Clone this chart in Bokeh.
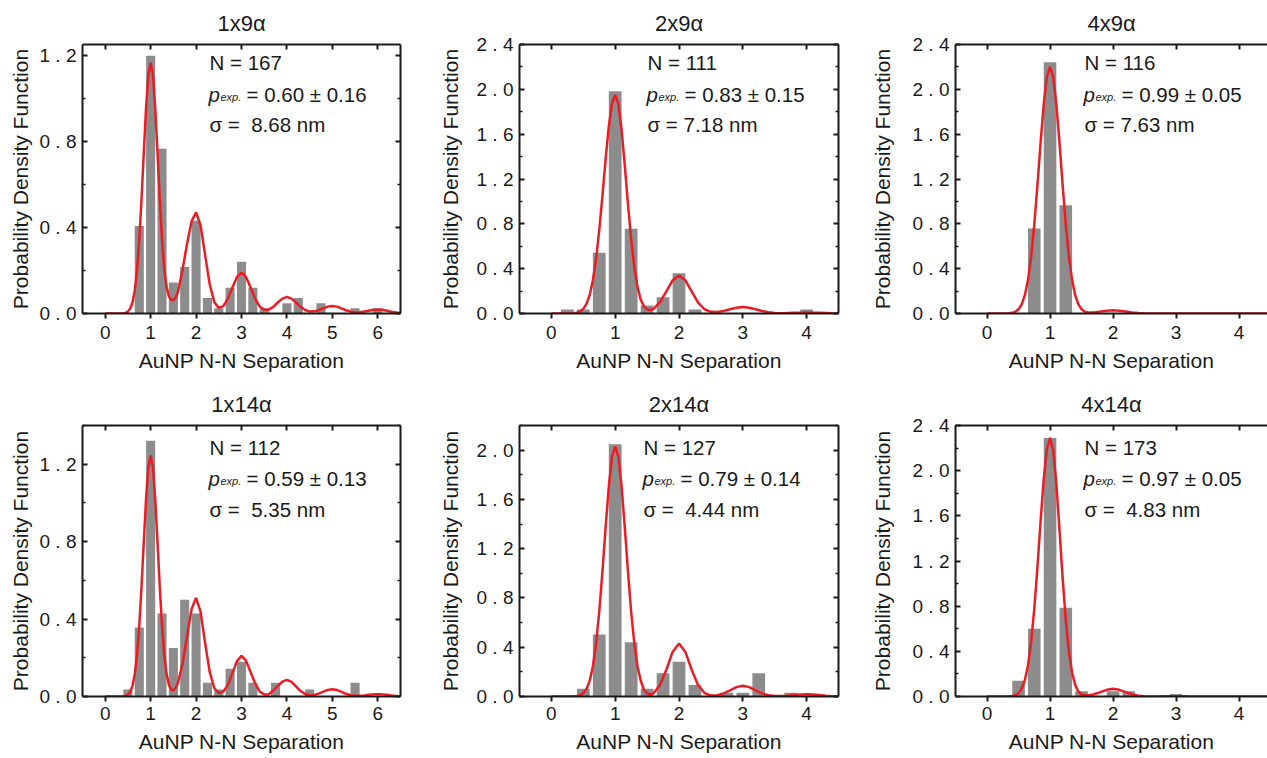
from bokeh.plotting import figure
from bokeh.layouts import column, row
from bokeh.models import LinearAxis, FixedTicker, CustomJSTickFormatter, Label, Range1d
from bokeh.embed import file_html
from bokeh.resources import INLINE

# ---------------- data ----------------
titles = ["1x9\u03b1", "2x9\u03b1", "4x9\u03b1", "1x14\u03b1", "2x14\u03b1", "4x14\u03b1"]
n_values = ["167", "111", "116", "112", "127", "173"]
p_values = ["0.60 \u00b1 0.16", "0.83 \u00b1 0.15", "0.99 \u00b1 0.05",
            "0.59 \u00b1 0.13", "0.79 \u00b1 0.14", "0.97 \u00b1 0.05"]
sigma_values = ["\u00a08.68", "7.18", "7.63", "\u00a05.35", "\u00a04.44", "\u00a04.83"]

# histogram bins (centre of 0.25-wide bins) and probability density heights
bars_x1 = [0.75, 1.0, 1.25, 1.5, 1.75, 2.0, 2.25, 2.5, 2.75, 3.0, 3.25, 3.5, 4.0, 4.25, 4.75, 5.5, 6.0]
bars_h1 = [0.407, 1.198, 0.766, 0.144, 0.216, 0.431, 0.072, 0.024, 0.120, 0.240, 0.120, 0.024,
           0.048, 0.072, 0.048, 0.024, 0.024]
bars_x2 = [0.25, 0.5, 0.75, 1.0, 1.25, 1.5, 1.75, 2.0, 2.25, 4.0]
bars_h2 = [0.036, 0.036, 0.541, 1.982, 0.757, 0.072, 0.144, 0.360, 0.036, 0.036]
bars_x3 = [0.75, 1.0, 1.25]
bars_h3 = [0.759, 2.241, 0.966]
bars_x4 = [0.5, 0.75, 1.0, 1.25, 1.5, 1.75, 2.0, 2.25, 2.5, 2.75, 3.0, 3.25, 3.75, 4.5, 5.5]
bars_h4 = [0.036, 0.357, 1.321, 0.429, 0.250, 0.500, 0.429, 0.071, 0.036, 0.143, 0.179, 0.071,
           0.071, 0.036, 0.071]
bars_x5 = [0.5, 0.75, 1.0, 1.25, 1.5, 1.75, 2.0, 2.25, 2.75, 3.0, 3.25, 3.75]
bars_h5 = [0.063, 0.504, 2.047, 0.441, 0.063, 0.189, 0.283, 0.094, 0.031, 0.031, 0.189, 0.031]
bars_x6 = [0.5, 0.75, 1.0, 1.25, 1.5, 2.0, 2.25, 3.0]
bars_h6 = [0.139, 0.601, 2.289, 0.786, 0.046, 0.046, 0.046, 0.023]

# fitted curves, read point by point
grid_a = [0.0, 0.3, 0.4, 0.45, 0.5, 0.55, 0.6, 0.65, 0.7, 0.75, 0.8, 0.85, 0.9, 0.95, 1.0,
          1.05, 1.1, 1.15, 1.2, 1.25, 1.3, 1.35, 1.4, 1.45, 1.5, 1.55, 1.6,
          1.7, 1.8, 1.9, 2.0, 2.1, 2.2, 2.3, 2.4, 2.5, 2.6, 2.7, 2.8, 2.9, 3.0,
          3.1, 3.2, 3.3, 3.4, 3.5, 3.6, 3.7, 3.8, 3.9, 4.0, 4.1, 4.2, 4.3, 4.4, 4.5,
          4.6, 4.7, 4.8, 4.9, 5.0, 5.1, 5.2, 5.3, 5.4, 5.5, 5.6, 5.7, 5.8, 5.9, 6.0,
          6.1, 6.2, 6.3, 6.4, 6.5]
grid_b = [0.0, 0.3, 0.35, 0.4, 0.45, 0.5, 0.55, 0.6, 0.65, 0.7, 0.75, 0.8, 0.85, 0.9, 0.95, 1.0,
          1.05, 1.1, 1.15, 1.2, 1.25, 1.3, 1.35, 1.4, 1.45, 1.5, 1.55, 1.6,
          1.7, 1.8, 1.9, 2.0, 2.1, 2.2, 2.3, 2.4, 2.5, 2.6, 2.7, 2.8, 2.9, 3.0,
          3.1, 3.2, 3.3, 3.4, 3.5, 3.6, 3.7, 3.8, 3.9, 4.0, 4.1, 4.2, 4.3, 4.4, 4.5]

fit_y1 = [0.0, 0.0, 0.001,
          0.003, 0.009, 0.022, 0.051, 0.106, 0.200, 0.344, 0.534, 0.751, 0.959, 1.109, 1.165,
          1.109, 0.959, 0.751, 0.535, 0.347, 0.205, 0.125, 0.080, 0.064, 0.062, 0.074, 0.100,
          0.201, 0.322, 0.428, 0.470, 0.409, 0.270, 0.136, 0.054, 0.026, 0.034, 0.069, 0.121,
          0.170, 0.190, 0.170, 0.121, 0.069, 0.033, 0.017, 0.018, 0.031, 0.051, 0.069, 0.077,
          0.069, 0.051, 0.031, 0.016, 0.009, 0.010, 0.015, 0.024, 0.032, 0.035, 0.032, 0.024,
          0.015, 0.009, 0.005, 0.006, 0.009, 0.013, 0.017, 0.018, 0.017, 0.013, 0.008, 0.005,
          0.002]
fit_y4 = [0.0, 0.0, 0.001,
          0.003, 0.0095, 0.024, 0.055, 0.114, 0.214, 0.367, 0.570, 0.803, 1.025, 1.185, 1.245,
          1.185, 1.025, 0.803, 0.570, 0.368, 0.215, 0.117, 0.061, 0.036, 0.032, 0.044, 0.070,
          0.166, 0.309, 0.450, 0.510, 0.437, 0.275, 0.127, 0.044, 0.018, 0.025, 0.060, 0.121,
          0.183, 0.210, 0.185, 0.127, 0.068, 0.026, 0.010, 0.012, 0.031, 0.055, 0.077, 0.086,
          0.076, 0.052, 0.028, 0.0125, 0.0067, 0.0083, 0.015, 0.025, 0.034, 0.038, 0.034, 0.024,
          0.014, 0.0067, 0.0036, 0.0036, 0.0055, 0.0085, 0.011, 0.012, 0.011, 0.0085, 0.0055,
          0.003, 0.0014]
fit_y2 = [0.0,
          0.001, 0.003, 0.0075, 0.018, 0.041, 0.086, 0.165, 0.294, 0.486, 0.743, 1.052, 1.378,
          1.671, 1.876, 1.950, 1.868, 1.640, 1.322, 0.976, 0.662, 0.411, 0.235, 0.124, 0.064,
          0.037, 0.031, 0.041,
          0.099, 0.195, 0.296, 0.340, 0.296, 0.195, 0.098, 0.038, 0.015, 0.013, 0.023, 0.038,
          0.052, 0.058, 0.052, 0.038, 0.023, 0.011, 0.005, 0.003, 0.004, 0.006, 0.007, 0.008,
          0.007, 0.006, 0.004, 0.002, 0.001]
fit_y3 = [0.0,
          0.0007, 0.002, 0.006, 0.016, 0.037, 0.081, 0.161, 0.298, 0.506, 0.793, 1.145, 1.524,
          1.869, 2.112, 2.200, 2.112, 1.869, 1.524, 1.145, 0.793, 0.506, 0.298, 0.161, 0.081,
          0.037, 0.016, 0.010,
          0.010, 0.017, 0.025, 0.028, 0.025, 0.017, 0.009, 0.004, 0.001, 0.0, 0.0, 0.0,
          0.0, 0.0, 0.0, 0.0, 0.0, 0.0, 0.0, 0.0, 0.0, 0.0, 0.0, 0.0,
          0.0, 0.0, 0.0, 0.0, 0.0]
fit_y5 = [0.0,
          0.0003, 0.0014, 0.004, 0.011, 0.027, 0.061, 0.127, 0.244, 0.428, 0.688, 1.015, 1.376,
          1.707, 1.945, 2.030, 1.945, 1.707, 1.376, 1.015, 0.688, 0.428, 0.244, 0.128, 0.055,
          0.025, 0.016, 0.026,
          0.092, 0.215, 0.362, 0.430, 0.362, 0.215, 0.091, 0.028, 0.0084, 0.010, 0.025, 0.050,
          0.076, 0.087, 0.076, 0.050, 0.025, 0.0098, 0.0038, 0.0037, 0.007, 0.012, 0.017, 0.019,
          0.017, 0.012, 0.007, 0.003, 0.001]
fit_y6 = [0.0,
          0.0004, 0.0015, 0.0046, 0.012, 0.030, 0.069, 0.144, 0.275, 0.483, 0.776, 1.145, 1.553,
          1.926, 2.194, 2.290, 2.180, 1.885, 1.477, 1.049, 0.676, 0.394, 0.209, 0.101, 0.044,
          0.020, 0.010, 0.0094,
          0.0195, 0.039, 0.059, 0.068, 0.059, 0.039, 0.0195, 0.0074, 0.0021, 0.0005, 0.0002,
          0.0013, 0.0025, 0.003, 0.0025, 0.0013, 0.0003, 0.0, 0.0, 0.0, 0.0, 0.0, 0.0, 0.0,
          0.0, 0.0, 0.0, 0.0, 0.0]

x_ticks_long = [0, 1, 2, 3, 4, 5, 6]
x_ticks_short = [0, 1, 2, 3, 4]
y_major_12 = [0.0, 0.4, 0.8, 1.2]
y_minor_12 = [0.2, 0.6, 1.0, 1.4]
y_major_24 = [0.0, 0.4, 0.8, 1.2, 1.6, 2.0, 2.4]
y_major_20 = [0.0, 0.4, 0.8, 1.2, 1.6, 2.0]
y_minor_24 = [0.2, 0.6, 1.0, 1.4, 1.8, 2.2]

# ---------------- styling ----------------
FONT = "Liberation Sans"
INK = "#1a1a1a"
BAR = "#8c8c8c"
RED = "#ec1c24"

col_w = [412, 438, 417]
col_left = [82, 107, 105]
col_right = [12, 12, 0]
col_ylabel_standoff = [5, 12, 16]
col_text_dx = [127, 128, 129]
row_h = [375, 383]
row_top = [44, 50]
row_bottom = [62, 62]
row_tick_standoff = [7, 5]
row_label_standoff = [7, 7]
row_title_standoff = [17, 17]
row_text_cy = [[17.5, 50, 80], [22, 53, 84]]

panels = [
    dict(bx=bars_x1, bh=bars_h1, cx=grid_a, cy=fit_y1, xe=6.5, xt=x_ticks_long, ye=1.25,
         ymaj=y_major_12, ymin=y_minor_12[:3], right=True),
    dict(bx=bars_x2, bh=bars_h2, cx=grid_b, cy=fit_y2, xe=4.5, xt=x_ticks_short, ye=2.4,
         ymaj=y_major_24, ymin=y_minor_24, right=True),
    dict(bx=bars_x3, bh=bars_h3, cx=grid_b, cy=fit_y3, xe=4.45, xt=x_ticks_short, ye=2.4,
         ymaj=y_major_24, ymin=y_minor_24, right=False),
    dict(bx=bars_x4, bh=bars_h4, cx=grid_a, cy=fit_y4, xe=6.5, xt=x_ticks_long, ye=1.4,
         ymaj=y_major_12, ymin=y_minor_12, right=True),
    dict(bx=bars_x5, bh=bars_h5, cx=grid_b, cy=fit_y5, xe=4.5, xt=x_ticks_short, ye=2.2,
         ymaj=y_major_20, ymin=y_minor_24, right=True),
    dict(bx=bars_x6, bh=bars_h6, cx=grid_b, cy=fit_y6, xe=4.45, xt=x_ticks_short, ye=2.4,
         ymaj=y_major_24, ymin=y_minor_24, right=False),
]

fmt_code = "return tick.toFixed(1).split('').join(' ');"


def style_axis(ax):
    ax.axis_line_width = 2
    ax.axis_line_color = INK
    ax.major_tick_line_width = 2
    ax.major_tick_line_color = INK
    ax.minor_tick_line_width = 1.5
    ax.minor_tick_line_color = INK
    ax.major_label_text_font = FONT
    ax.major_label_text_font_size = "19px"
    ax.major_label_text_color = INK
    ax.axis_label_text_font = FONT
    ax.axis_label_text_font_size = "21px"
    ax.axis_label_text_font_style = "normal"
    ax.axis_label_text_color = INK


def mirror_axis(ax):
    # tick marks only, no labels
    style_axis(ax)
    ax.major_label_text_font_size = "1px"
    ax.major_label_text_color = None
    ax.major_label_standoff = 0


figs = []
for i, cfg in enumerate(panels):
    r, c = divmod(i, 3)
    xs = -0.5
    p = figure(width=col_w[c], height=row_h[r],
               x_range=Range1d(xs, cfg["xe"]), y_range=Range1d(0, cfg["ye"]),
               x_axis_type=None, y_axis_type=None,
               output_backend="svg", toolbar_location=None,
               min_border_left=col_left[c], min_border_right=col_right[c],
               min_border_top=row_top[r], min_border_bottom=row_bottom[r])
    p.outline_line_color = None
    p.grid.visible = False
    p.background_fill_color = "white"
    p.border_fill_color = "white"

    # title
    p.title.text = titles[i]
    p.title.align = "center"
    p.title.text_font = FONT
    p.title.text_font_size = "22px"
    p.title.text_font_style = "normal"
    p.title.text_color = INK
    if "standoff" in p.title.properties():
        p.title.standoff = row_title_standoff[r]

    # axes
    bottom = LinearAxis(ticker=FixedTicker(ticks=cfg["xt"], minor_ticks=[]),
                        axis_label="AuNP N-N Separation")
    style_axis(bottom)
    bottom.major_tick_in = 0
    bottom.major_tick_out = 5
    bottom.minor_tick_in = 0
    bottom.minor_tick_out = 0
    bottom.major_label_standoff = row_tick_standoff[r]
    bottom.axis_label_standoff = row_label_standoff[r]
    p.add_layout(bottom, "below")

    top = LinearAxis(ticker=FixedTicker(ticks=cfg["xt"], minor_ticks=[]))
    mirror_axis(top)
    top.major_tick_in = 5
    top.major_tick_out = 0
    top.minor_tick_in = 0
    top.minor_tick_out = 0
    p.add_layout(top, "above")

    left = LinearAxis(ticker=FixedTicker(ticks=cfg["ymaj"], minor_ticks=cfg["ymin"]),
                      formatter=CustomJSTickFormatter(code=fmt_code),
                      axis_label="Probability Density Function")
    style_axis(left)
    left.major_tick_in = 5
    left.major_tick_out = 0
    left.minor_tick_in = 3
    left.minor_tick_out = 0
    left.major_label_standoff = 6
    left.axis_label_standoff = col_ylabel_standoff[c]
    p.add_layout(left, "left")

    if cfg["right"]:
        right = LinearAxis(ticker=FixedTicker(ticks=cfg["ymaj"], minor_ticks=cfg["ymin"]))
        mirror_axis(right)
        right.major_tick_in = 5
        right.major_tick_out = 0
        right.minor_tick_in = 3
        right.minor_tick_out = 0
        p.add_layout(right, "right")

    # histogram and fit
    p.vbar(x=cfg["bx"], top=cfg["bh"], bottom=0, width=0.2,
           fill_color=BAR, line_color=None)
    p.line(x=cfg["cx"], y=cfg["cy"], line_color=RED, line_width=2.5)

    # annotations (vertically centred on the given distance below the frame top)
    dx = col_text_dx[c] - (4 if i == 4 else 0)
    cy = row_text_cy[r]
    common = dict(x=xs, y=cfg["ye"], text_font=FONT, text_color=INK,
                  text_align="left", text_baseline="middle")
    p.add_layout(Label(x_offset=dx, y_offset=-cy[0], text="N = " + n_values[i],
                       text_font_size="20.5px", **common))
    p.add_layout(Label(x_offset=dx - 1, y_offset=-cy[1], text="p",
                       text_font_size="20.5px", text_font_style="italic", **common))
    p.add_layout(Label(x_offset=dx + 11, y_offset=-(cy[1] + 2.5), text="exp.",
                       text_font_size="11px", text_font_style="italic", **common))
    p.add_layout(Label(x_offset=dx + 37, y_offset=-cy[1], text="= " + p_values[i],
                       text_font_size="20.5px", **common))
    p.add_layout(Label(x_offset=dx, y_offset=-cy[2],
                       text="\u03c3 = " + sigma_values[i] + " nm",
                       text_font_size="20.5px", **common))
    figs.append(p)

layout = column(row(figs[0], figs[1], figs[2]), row(figs[3], figs[4], figs[5]))

with open("out.html", "w", encoding="utf-8") as f:
    f.write(file_html(layout, INLINE))
